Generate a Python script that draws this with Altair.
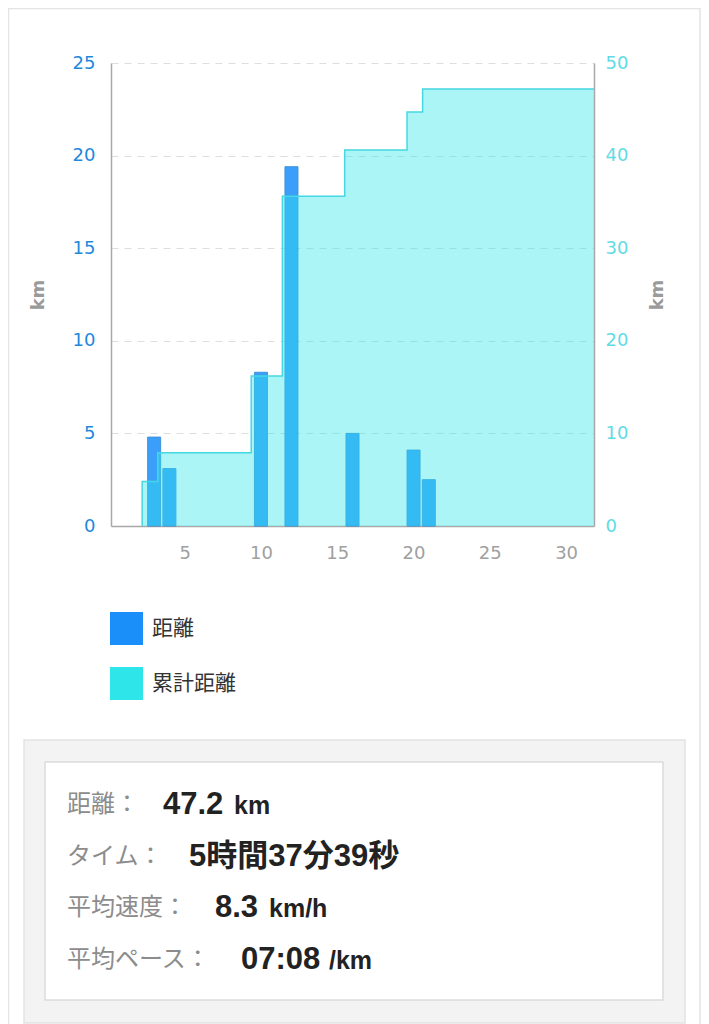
import altair as alt
import numpy as np
import pandas as pd

# ---- data ----
run_days = [3, 4, 10, 12, 16, 20, 21]
run_km = [4.8, 3.1, 8.3, 19.4, 5.0, 4.1, 2.5]
month_days = 31
series_names = ["距離", "累計距離"]
series_colors = ["#1a8ffa", "#2ee6ea"]
x_ticks = [5, 10, 15, 20, 25, 30]
left_ticks = [0, 5, 10, 15, 20, 25]
right_ticks = [0, 10, 20, 30, 40, 50]

stat_labels = ["距離：", "タイム：", "平均速度：", "平均ペース："]
stat_values = ["47.2", "5時間37分39秒", "8.3", "07:08"]
stat_units = ["km", "", "km/h", "/km"]

# ---- tables ----
bars_df = pd.DataFrame({"day": run_days, "km": run_km, "series": series_names[0]})

per_day = np.zeros(month_days + 1)
for d, k in zip(run_days, run_km):
    per_day[d] += k
cum = np.cumsum(per_day)
first = run_days[0]
edges = [first - 0.5] + [d - 0.5 for d in range(first, month_days + 1)] + [month_days + 0.5]
cvals = [0.0] + [round(float(cum[d]), 2) for d in range(first, month_days + 1)] + [round(float(cum[month_days]), 2)]
line_df = pd.DataFrame({"edge": edges, "cum": cvals, "i": list(range(len(edges)))})
area_df = pd.DataFrame({"edge": edges[1:], "cum": cvals[1:], "series": series_names[1]})

stats_df = pd.DataFrame({"label": stat_labels, "value": stat_values, "unit": stat_units,
                         "row": list(range(len(stat_labels)))})

FONT = "DejaVu Sans"
JP = "Noto Sans CJK JP"
NUM = "Liberation Sans, Noto Sans CJK JP"

xscale = alt.Scale(domain=[0.5, month_days + 0.5], nice=False, zero=False)
xaxis = alt.Axis(values=x_ticks, title=None, grid=False, ticks=False, labelPadding=18,
                 labelFont=FONT, labelFontSize=18, labelColor="#a0a0a0",
                 domainColor="#a8a8a8", domainWidth=1.5)

legend = alt.Legend(title=None, orient="none", legendX=-1, legendY=549, direction="vertical",
                    symbolType="square", symbolSize=1089, symbolStrokeWidth=0, symbolOpacity=1,
                    labelFont=JP, labelFontSize=21, labelColor="#333333", labelOffset=9,
                    rowPadding=22)
color = alt.Color("series:N", scale=alt.Scale(domain=series_names, range=series_colors),
                  legend=legend)
ycum_scale = alt.Scale(domain=[0, 50], nice=False)

# decorations (panel frames)
card = alt.Chart(pd.DataFrame({"k": [0]})).mark_rect(fillOpacity=0, stroke="#e4e4e4", strokeWidth=1.5).encode(
    x=alt.value(-102.5), x2=alt.value(589), y=alt.value(-54.5), y2=alt.value(1000))
outer = alt.Chart(pd.DataFrame({"k": [0]})).mark_rect(fill="#f3f3f3", stroke="#e3e3e3", strokeWidth=1.5).encode(
    x=alt.value(-87), x2=alt.value(574), y=alt.value(677), y2=alt.value(960))
inner = alt.Chart(pd.DataFrame({"k": [0]})).mark_rect(fill="#ffffff", stroke="#dcdcdc", strokeWidth=1.5).encode(
    x=alt.value(-66), x2=alt.value(552), y=alt.value(699), y2=alt.value(937))

bars = alt.Chart(bars_df).mark_bar(width=13, opacity=0.85, stroke="#1f7fd6", strokeWidth=1).encode(
    x=alt.X("day:Q", scale=xscale, axis=xaxis),
    y=alt.Y("km:Q", scale=alt.Scale(domain=[0, 25], nice=False),
            axis=alt.Axis(orient="left", values=left_ticks, title="km", grid=True, ticks=False,
                          gridDash=[7, 6], gridColor="#dedede", gridWidth=1,
                          labelPadding=16, labelFont=FONT, labelFontSize=18, labelColor="#1e88dc",
                          titleFont=FONT, titleFontSize=18, titleFontWeight="bold", titleColor="#9a9a9a",
                          titlePadding=25, domainColor="#a8a8a8", domainWidth=1.5)),
    color=color,
)

area = alt.Chart(area_df).mark_area(interpolate="step-after", fillOpacity=0.4).encode(
    x=alt.X("edge:Q", scale=xscale, axis=None),
    y=alt.Y("cum:Q", scale=ycum_scale, stack=None,
            axis=alt.Axis(orient="right", values=right_ticks, title="km", grid=False, ticks=False,
                          labelPadding=11, labelFont=FONT, labelFontSize=18, labelColor="#5fdbe6",
                          titleFont=FONT, titleFontSize=18, titleFontWeight="bold", titleColor="#9a9a9a",
                          titleAngle=270, titleBaseline="top", titlePadding=21,
                          domainColor="#a8a8a8", domainWidth=1.5)),
    color=color,
)

outline = alt.Chart(line_df).mark_line(interpolate="step-after", color="#45d8e2", strokeWidth=1.5).encode(
    x=alt.X("edge:Q", scale=xscale, axis=None),
    y=alt.Y("cum:Q", scale=ycum_scale, axis=None),
    order=alt.Order("i:Q"),
)

yrow = alt.Y("row:Q", scale=alt.Scale(domain=[0, 3], range=[742, 897]), axis=None)
stats_base = alt.Chart(stats_df).transform_calculate(
    vx="26 * length(datum.label) - 26",
).transform_calculate(
    ux="datum.vx + 17 * length(datum.value) + 3",
)

labels_t = stats_base.mark_text(align="left", baseline="middle", font=JP, fontSize=24,
                                color="#8c8c8c").encode(x=alt.value(-44), y=yrow, text="label:N")
values_t = stats_base.mark_text(align="left", baseline="middle", font=NUM, fontSize=31,
                                fontWeight="bold", color="#222222").encode(
    x=alt.X("vx:Q", scale=None, axis=None), y=yrow, text="value:N")
units_t = stats_base.mark_text(align="left", baseline="middle", font=NUM, fontSize=25, dy=1,
                               fontWeight="bold", color="#222222").encode(
    x=alt.X("ux:Q", scale=None, axis=None), y=yrow, text="unit:N")

chart = alt.layer(card, outer, inner, bars, area, outline, labels_t, values_t, units_t).resolve_scale(
    x="independent", y="independent"
).properties(
    width=483, height=463,
    autosize=alt.AutoSizeParams(type="none"),
    padding={"left": 103, "top": 55, "right": 107, "bottom": 498},
).configure_view(stroke=None)

chart.save("out.html", embed_options={"renderer": "svg", "actions": False})
